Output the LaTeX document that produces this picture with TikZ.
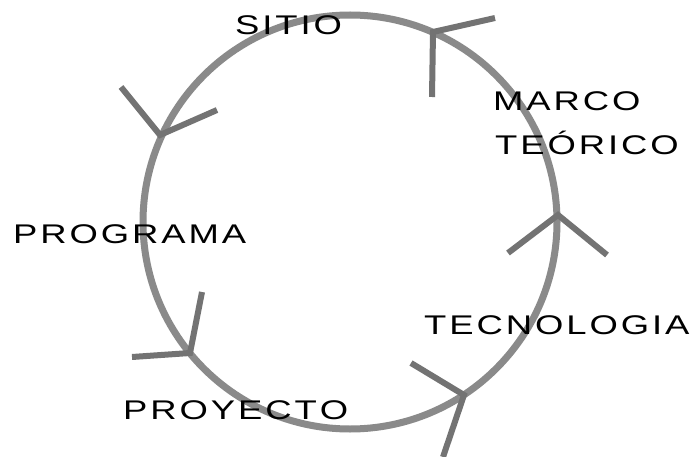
\documentclass[tikz,border=0pt]{standalone}
\usepackage{fontspec}
\setmainfont{Liberation Sans}
\makeatletter
\newcommand\spacedtxt[1]{{\def\sepk{}\@tfor\ch:=#1\do{\sepk\ch\def\sepk{\kern0.08em}}}}
\makeatother
\definecolor{ringgray}{RGB}{138,138,138}
\definecolor{armgray}{RGB}{115,115,115}
\tikzset{
  ring/.style={draw=ringgray, line width=7pt},
  arm/.style={draw=armgray, line width=6pt, line cap=butt, line join=miter},
  lbl/.style={inner sep=0pt, anchor=base west, text=black, font=\fontsize{27}{27}\selectfont}
}
\newcommand\lbltxt[1]{\scalebox{1.35}[1]{\spacedtxt{#1}}}
\begin{document}
\begin{tikzpicture}[x=1pt,y=-1pt]
\useasboundingbox (0,0) rectangle (690,457);
\fill[white] (0,0) rectangle (690,457);
\coordinate (c) at (350,222);
\draw[ring] (c) circle[radius=207pt];
% marks
\coordinate (m1) at (433,32);  \coordinate (m1a) at (432,97);  \coordinate (m1b) at (495,18);
\coordinate (m2) at (160,135); \coordinate (m2a) at (121,87);  \coordinate (m2b) at (217,110);
\coordinate (m3) at (558,215); \coordinate (m3a) at (508,253); \coordinate (m3b) at (607,255);
\coordinate (m4) at (190,353); \coordinate (m4a) at (202,292); \coordinate (m4b) at (132,357);
\coordinate (m5) at (464,395); \coordinate (m5a) at (411,363); \coordinate (m5b) at (443,457);
\draw[arm] (m1a) -- (m1) -- (m1b);
\draw[arm] (m2a) -- (m2) -- (m2b);
\draw[arm] (m3a) -- (m3) -- (m3b);
\draw[arm] (m4a) -- (m4) -- (m4b);
\draw[arm] (m5a) -- (m5) -- (m5b);
% labels
\node[lbl] (sitio) at (235,35) {\lbltxt{SITIO}};
\node[lbl] (marco) at (493,111) {\lbltxt{MARCO}};
\node[lbl] (teorico) at (495,155) {\lbltxt{TEÓRICO}};
\node[lbl] (programa) at (13,243) {\lbltxt{PROGRAMA}};
\node[lbl] (tecnologia) at (424,334) {\lbltxt{TECNOLOGIA}};
\node[lbl] (proyecto) at (123,419) {\lbltxt{PROYECTO}};
\end{tikzpicture}
\end{document}
